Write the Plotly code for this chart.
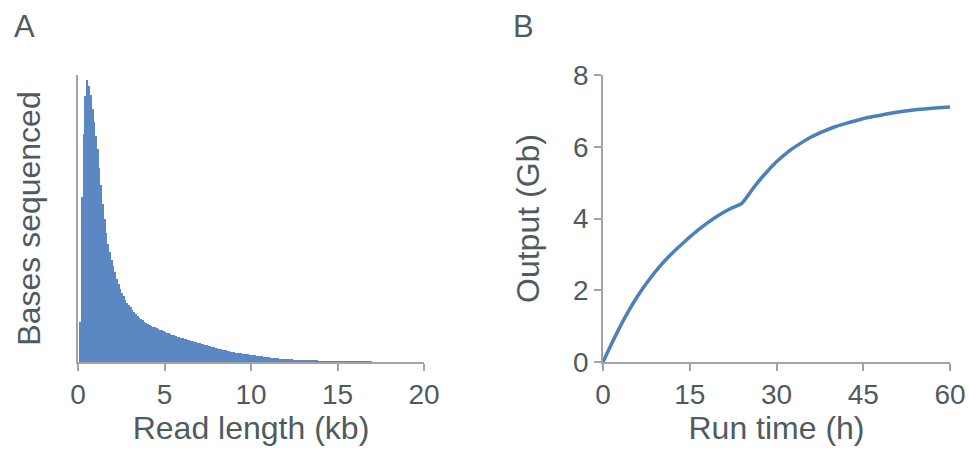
import plotly.graph_objects as go

# Panel A: read-length histogram (0.1 kb bins), relative bases sequenced
bin_width_kb = 0.1
bases_sequenced = [
    0, 40, 165, 228, 266, 282, 276, 267, 253, 240,
    226, 213, 194, 177, 158, 143, 129, 118, 110, 102,
    96, 90, 83, 78, 73, 69, 66, 62, 59, 57,
    55, 52, 50, 48, 46, 44.5, 43, 42, 40.5, 39.5,
    38.5, 37.5, 36.5, 35.5, 35, 34, 33.5, 32.5, 32, 31,
    30.5, 29.5, 29, 28, 27.5, 27, 26, 25.5, 25, 24.5,
    24, 23.5, 23, 22.5, 22, 21.5, 21, 20.5, 20, 19.5,
    19, 18.5, 18, 17.5, 17, 16.5, 16, 15.5, 15, 14.5,
    14, 13.5, 13, 12.5, 12, 12, 11.5, 11, 10.5, 10,
    10, 9.5, 9.5, 9, 9, 8.5, 8.5, 8, 8, 7.5,
    7.5, 7, 7, 6.5, 6.5, 6, 6, 5.5, 5.5, 5,
    5, 4.5, 4.5, 4, 4, 4, 3.5, 3.5, 3.5, 3,
    3, 3, 2.8, 2.6, 2.5, 2.4, 2.2, 2, 2, 1.9,
    1.8, 1.7, 1.6, 1.5, 1.4, 1.3, 1.2, 1.2, 1.1, 1,
    1, 0.9, 0.9, 0.8, 0.8, 0.7, 0.7, 0.6, 0.6, 0.6,
    0.5, 0.5, 0.5, 0.4, 0.4, 0.4, 0.3, 0.3, 0.3, 0.3,
    0.3, 0.2, 0.2, 0.3, 0.2, 0.1, 0.2, 0.1, 0.1, 0.1,
]
read_length_kb = [round(i * bin_width_kb + bin_width_kb / 2, 3) for i in range(len(bases_sequenced))]
x_ticks_a = [0, 5, 10, 15, 20]

# Panel B: cumulative output over run time
run_time_h = [0, 2, 4, 6, 8, 10, 12, 14, 16, 18, 20, 22, 24, 26, 28, 30,
              32, 34, 36, 38, 40, 42, 44, 46, 48, 50, 52, 54, 56, 58, 60]
output_gb = [0, 0.68, 1.3, 1.84, 2.3, 2.7, 3.04, 3.34, 3.62, 3.87, 4.09, 4.27, 4.42,
             4.85, 5.24, 5.58, 5.86, 6.08, 6.27, 6.42, 6.55, 6.65, 6.74, 6.82,
             6.88, 6.94, 6.99, 7.03, 7.06, 7.09, 7.11]
x_ticks_b = [0, 15, 30, 45, 60]
y_ticks_b = [0, 2, 4, 6, 8]

TXT = "#4f5b5f"
AX = "#a3a3a3"
FONT = "Liberation Sans, Arial, sans-serif"
TICK = 28
TITLE = 32

fig = go.Figure()
fig.add_trace(go.Bar(
    x=read_length_kb, y=bases_sequenced, width=bin_width_kb,
    marker=dict(color="#5b87c2", line=dict(width=0)),
    xaxis="x", yaxis="y", showlegend=False,
))
fig.add_trace(go.Scatter(
    x=run_time_h, y=output_gb, mode="lines",
    line=dict(color="#4a81bb", width=3.5, shape="spline", smoothing=0.6),
    xaxis="x2", yaxis="y2", showlegend=False,
))

ydom = [(454 - 362) / 454, (454 - 75) / 454]
common = dict(showgrid=False, zeroline=False, showline=True, linecolor=AX, linewidth=1.5,
              automargin=False)
fig.update_layout(
    width=969, height=454,
    margin=dict(l=0, r=0, t=0, b=0),
    paper_bgcolor="white", plot_bgcolor="white",
    font=dict(family=FONT, color=TXT, size=TICK),
    bargap=0,
    xaxis=dict(domain=[78 / 969, 424 / 969], range=[0, 20], tickvals=x_ticks_a,
               ticks="outside", ticklen=7, tickcolor=AX, tickwidth=1.5,
               tickfont=dict(size=TICK, color=TXT),
               title=dict(text="Read length (kb)", font=dict(size=TITLE, color=TXT), standoff=6),
               **common),
    yaxis=dict(domain=ydom, range=[0, 287], showticklabels=False, ticks="",
               title=dict(text="Bases sequenced", font=dict(size=TITLE, color=TXT), standoff=26),
               **common),
    xaxis2=dict(domain=[603 / 969, 950 / 969], range=[0, 60], tickvals=x_ticks_b,
                anchor="y2", ticks="outside", ticklen=7, tickcolor=AX, tickwidth=1.5,
                tickfont=dict(size=TICK, color=TXT),
                title=dict(text="Run time (h)", font=dict(size=TITLE, color=TXT), standoff=6),
                **common),
    yaxis2=dict(domain=ydom, range=[0, 8], tickvals=y_ticks_b, anchor="x2",
                ticks="outside", ticklen=7, tickcolor=AX, tickwidth=1.5,
                tickfont=dict(size=TICK, color=TXT),
                title=dict(text="Output (Gb)", font=dict(size=TITLE, color=TXT), standoff=24),
                **common),
    annotations=[
        dict(text="A", x=12 / 969, y=1 - 26 / 454, xref="paper", yref="paper",
             xanchor="left", yanchor="middle", showarrow=False,
             font=dict(size=31, color=TXT)),
        dict(text="B", x=511 / 969, y=1 - 26 / 454, xref="paper", yref="paper",
             xanchor="left", yanchor="middle", showarrow=False,
             font=dict(size=31, color=TXT)),
    ],
)

fig.write_html("out.html", config={"displayModeBar": False},
               post_script="document.body.style.margin='0';document.body.style.padding='0';")
